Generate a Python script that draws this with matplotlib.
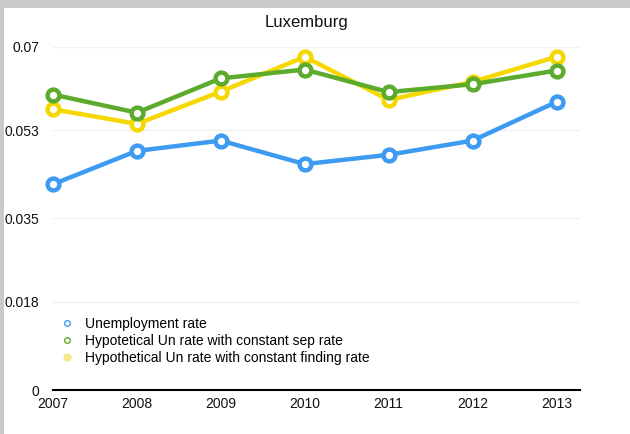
import matplotlib.pyplot as plt
from matplotlib.lines import Line2D
from matplotlib.patches import Rectangle

plt.rcParams['font.family'] = ['Liberation Sans', 'DejaVu Sans']

years = [2007, 2008, 2009, 2010, 2011, 2012, 2013]
unemployment = [0.0420, 0.0488, 0.0509, 0.0461, 0.0480, 0.0509, 0.0588]
const_sep = [0.0603, 0.0566, 0.0636, 0.0654, 0.0608, 0.0624, 0.0652]
const_finding = [0.0573, 0.0543, 0.0609, 0.0680, 0.0592, 0.0629, 0.0680]
yticks = [0, 0.018, 0.035, 0.053, 0.07]
ytick_labels = ['0', '0.018', '0.035', '0.053', '0.07']
labels = ['Unemployment rate',
          'Hypotetical Un rate with constant sep rate',
          'Hypothetical Un rate with constant finding rate']
colors = ['#3d9bf2', '#5cab2c', '#f7d700']

W, H = 630, 434
fig = plt.figure(figsize=(W / 100, H / 100), dpi=100)
fig.patch.set_facecolor('#c9c9c9')
fig.patches.append(Rectangle((4 / W, 0), 1, 1 - 8 / H, transform=fig.transFigure,
                             facecolor='white', edgecolor='none', zorder=-10))

ax = fig.add_axes([53 / W, 1 - 390 / H, (580 - 53) / W, (390 - 47) / H])
ax.set_facecolor('none')

series = [unemployment, const_sep, const_finding]
zorders = [5, 4, 3]
for vals, col, z, lab in zip(series, colors, zorders, labels):
    ax.plot(years, vals, color=col, lw=3.2, marker='o', ms=8.5, mew=3.2,
            mfc='white', mec=col, zorder=z, clip_on=False, label=lab)

ax.set_xlim(2007, 2013.28)
ax.set_ylim(0, 0.07)
ax.set_xticks(years)
ax.set_xticklabels([str(y) for y in years])
ax.set_yticks(yticks)
ax.set_yticklabels(ytick_labels)
ax.tick_params(length=0, labelsize=10, colors='#111111')
ax.tick_params(axis='x', pad=5)
ax.tick_params(axis='y', pad=10)

ax.grid(axis='y', color='#f1f1f1', lw=1)
ax.set_axisbelow(True)
for s in ['top', 'right', 'left']:
    ax.spines[s].set_visible(False)
ax.spines['bottom'].set_color('black')
ax.spines['bottom'].set_linewidth(1.5)
ax.spines['bottom'].set_zorder(2)

fig.text(306 / W, 1 - 22 / H, 'Luxemburg', ha='center', va='center',
         fontsize=12, color='#111111')

# small open-circle markers for the legend
handles = [
    Line2D([], [], ls='none', marker='o', ms=4, mew=1, mfc='white', mec=colors[0]),
    Line2D([], [], ls='none', marker='o', ms=4, mew=1, mfc='white', mec=colors[1]),
    Line2D([], [], ls='none', marker='o', ms=5, mew=1, mfc='#f7e98a', mec='#f7e98a'),
]
fig.legend(handles, labels, loc='upper left',
           bbox_to_anchor=(60 / W, 1 - 317 / H), frameon=False, fontsize=10,
           handlelength=1.0, handletextpad=0.8, labelspacing=0.2, borderpad=0,
           borderaxespad=0)

fig.savefig('out.png', dpi=100, facecolor=fig.get_facecolor())
